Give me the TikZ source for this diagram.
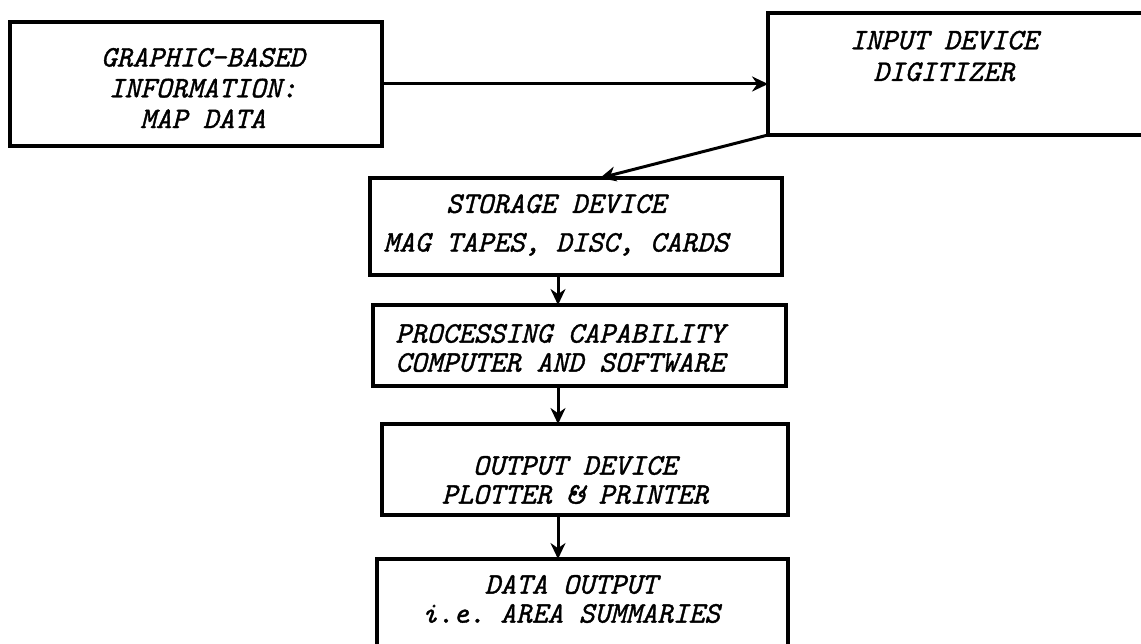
\documentclass[tikz,border=0pt]{standalone}
\usepackage{fontspec}
\setmonofont{Latin Modern Mono}[ItalicFeatures={FakeBold=1.2}]
\usetikzlibrary{arrows.meta,positioning}

\begin{document}
\begin{tikzpicture}[x=0.02cm,y=-0.02cm,
	box/.style={draw,line width=1.8pt,inner sep=0pt,outer sep=0pt},
	lbl/.style={align=center,font=\ttfamily\itshape\fontsize{17}{16.5}\selectfont},
	arr/.style={draw,line width=1.7pt,-{Stealth[length=0.32cm,width=0.3cm]}}]
\useasboundingbox (0,0) rectangle (1141,644);
\clip (0,0) rectangle (1141,644);
\coordinate							(axis)		at (558,0);
% boxes
\node[box,minimum width=7.44cm,minimum height=2.48cm]		(b_map)		at (196,84)		{};
\node[box,minimum width=7.84cm,minimum height=2.44cm]		(b_dig)		at (964,74)		{};
\node[box,minimum width=8.24cm,minimum height=1.94cm]		(b_store)	at (576,226.5)	{};
\node[box,minimum width=8.26cm,minimum height=1.62cm]		(b_proc)	at (579.5,345.5)	{};
\node[box,minimum width=8.12cm,minimum height=1.82cm]		(b_out)		at (585,469.5)	{};
\node[box,minimum width=8.22cm,minimum height=2.42cm]		(b_data)	at (582.5,619.5)	{};
% texts
\node[lbl,font=\ttfamily\itshape\fontsize{17}{17.5}\selectfont]	(t_map)		at (203,88)		{GRAPHIC-BASED\\INFORMATION:\\MAP DATA};
\node[lbl,font=\ttfamily\itshape\fontsize{17}{18}\selectfont]	(t_dig)		at (944,56)		{INPUT DEVICE\\DIGITIZER};
\node[lbl,font=\ttfamily\itshape\fontsize{17}{22}\selectfont]	(t_store)	at (556,225)	{STORAGE DEVICE\\MAG TAPES, DISC, CARDS};
\node[lbl]							(t_proc)	at (560,348)	{PROCESSING CAPABILITY\\COMPUTER AND SOFTWARE};
\node[lbl]							(t_out)		at (575,480)	{OUTPUT DEVICE\\PLOTTER \& PRINTER};
\node[lbl]							(t_data)	at (571,599)	{DATA OUTPUT\\i.e. AREA SUMMARIES};
% flow
\draw[arr]	(b_map.east)			--	(b_map.east -| b_dig.west);
\draw[arr]	(b_dig.south west)		--	([xshift=0.48cm]b_store.north);
\draw[arr]	(b_store.south -| axis)	--	(b_proc.north -| axis);
\draw[arr]	(b_proc.south -| axis)	--	(b_out.north -| axis);
\draw[arr]	(b_out.south -| axis)	--	(b_data.north -| axis);
\end{tikzpicture}
\end{document}
